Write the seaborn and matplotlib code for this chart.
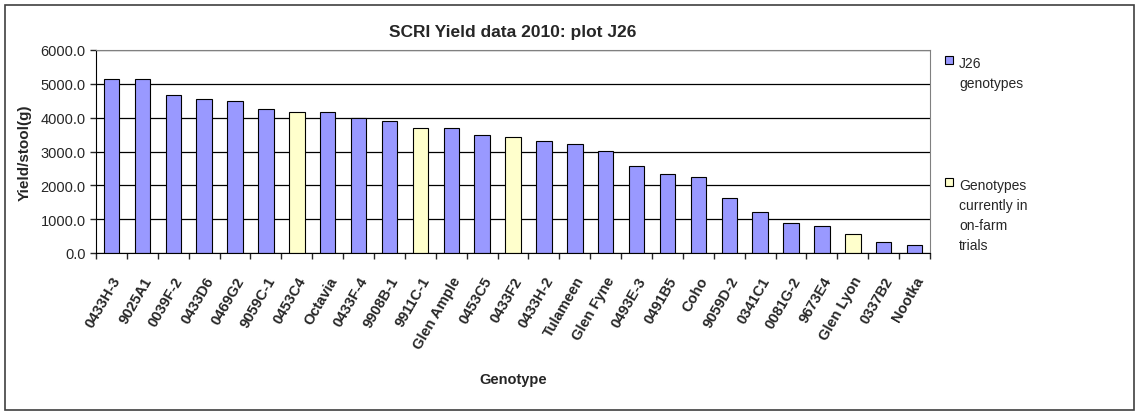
import numpy as np
import pandas as pd
import seaborn as sns
import matplotlib.pyplot as plt
from matplotlib.patches import Rectangle

genotypes = ['0433H-3', '9025A1', '0039F-2', '0433D6', '0469G2', '9059C-1', '0453C4',
             'Octavia', '0433F-4', '9908B-1', '9911C-1', 'Glen Ample', '0453C5', '0433F2',
             '0433H-2', 'Tulameen', 'Glen Fyne', '0493E-3', '0491B5', 'Coho', '9059D-2',
             '0341C1', '0081G-2', '9673E4', 'Glen Lyon', '0337B2', 'Nootka']
yields = [5150, 5150, 4675, 4550, 4505, 4250, 4160,
          4160, 3995, 3905, 3690, 3690, 3480, 3430,
          3315, 3225, 3010, 2585, 2330, 2240, 1640,
          1220, 880, 790, 575, 315, 225]
on_farm = ['0453C4', '9911C-1', '0433F2', 'Glen Lyon']
groups = ['J26\ngenotypes', 'Genotypes\ncurrently in\non-farm\ntrials']
colors = ['#9999FF', '#FFFFCC']

df = pd.DataFrame({'genotype': genotypes, 'yield': yields})
df['group'] = np.where(df['genotype'].isin(on_farm), groups[1], groups[0])

sns.set_style('white')
plt.rcParams['font.family'] = ['Liberation Sans', 'DejaVu Sans']

fig = plt.figure(figsize=(11.39, 4.14), dpi=100)
ax = fig.add_axes([96 / 1139, 1 - 254 / 414, 834 / 1139, 203 / 414])

sns.barplot(data=df, x='genotype', y='yield', hue='group', hue_order=groups,
            palette=colors, dodge=False, width=0.5, edgecolor='black',
            linewidth=0.8, saturation=1, ax=ax, legend=True)

ax.set_ylim(0, 6000)
ax.set_xlim(-0.5, len(genotypes) - 0.5)
ax.set_yticks(np.arange(0, 6001, 1000))
ax.set_yticklabels([f'{v:.1f}' for v in np.arange(0, 6001, 1000)], fontsize=10.5)
ax.yaxis.grid(True, color='black', linewidth=0.9)
ax.set_axisbelow(True)
for s in ['top', 'right']:
    ax.spines[s].set_color('#808080')
for s in ['left', 'bottom']:
    ax.spines[s].set_color('black')
ax.tick_params(axis='y', which='major', length=4, direction='out', left=True, width=1)

ax.set_xticks(range(len(genotypes)))
ax.set_xticklabels(genotypes, rotation=60, ha='right', rotation_mode='anchor',
                   fontsize=10.5, fontweight='bold')
ax.tick_params(axis='x', which='major', length=0, pad=15)
ax.set_xticks(np.arange(-0.5, len(genotypes), 1), minor=True)
ax.tick_params(axis='x', which='minor', length=4, direction='out', bottom=True, width=1)

ax.set_xlabel('Genotype', fontsize=10.5, fontweight='bold', labelpad=15)
ax.set_ylabel('Yield/stool(g)', fontsize=11, fontweight='bold', labelpad=6)
ax.set_title('SCRI Yield data 2010: plot J26', fontsize=12.5, fontweight='bold', pad=10)

leg = ax.legend(loc='upper left', bbox_to_anchor=(1.018, 0.97), frameon=False,
                fontsize=10, handlelength=0.55, handleheight=0.55, handletextpad=0.45,
                labelspacing=6.3, borderaxespad=0, borderpad=0)
for h in leg.legend_handles:
    h.set_edgecolor('black')
    h.set_linewidth(0.8)
for t in leg.get_texts():
    t.set_linespacing(1.55)
for col in leg._legend_handle_box.get_children():
    for row in col.get_children():
        row.align = 'top'

fig.patches.append(Rectangle((5 / 1139, 3 / 414), 1129 / 1139, 405 / 414,
                             transform=fig.transFigure, fill=False,
                             edgecolor='#404040', linewidth=1.2))

fig.savefig('out.png', dpi=100)
